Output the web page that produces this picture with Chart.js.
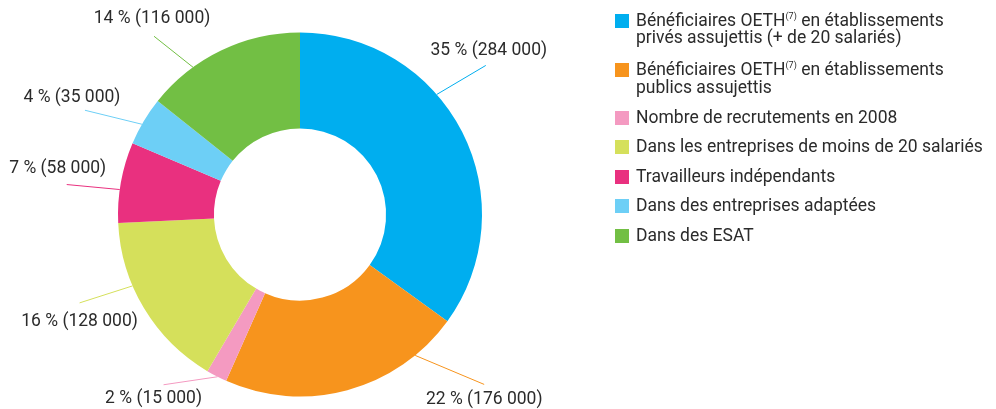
<!DOCTYPE html>
<html>
<head>
<meta charset="utf-8">
<script src="https://cdn.jsdelivr.net/npm/chart.js@4/dist/chart.umd.min.js"></script>
<style>
  html, body { margin: 0; padding: 0; background: #fff; }
  #wrap { position: relative; width: 996px; height: 409px; overflow: hidden; }
  #graphique { position: absolute; left: 0; top: 0; }
  #legende { position: absolute; left: 615px; top: 11.5px; width: 373px;
    font-family: Roboto, sans-serif; font-size: 17.5px; color: #2b2b2b; line-height: 17.7px; }
  .item { position: relative; padding-left: 21px; margin-bottom: 11.8px; }
  .item:first-child { margin-bottom: 14px; }
  .item:nth-child(2) { margin-bottom: 12.3px; }
  .carre { position: absolute; left: 0; top: 2px; width: 14px; height: 14px; }
  sup { font-size: 9px; line-height: 0; vertical-align: 7px; }
</style>
</head>
<body>
<div id="wrap">
  <canvas id="graphique" width="996" height="409"></canvas>
  <div id="legende"></div>
</div>
<script>
// données
const categories = [
  'Bénéficiaires OETH(7) en établissements privés assujettis (+ de 20 salariés)',
  'Bénéficiaires OETH(7) en établissements publics assujettis',
  'Nombre de recrutements en 2008',
  'Dans les entreprises de moins de 20 salariés',
  'Travailleurs indépendants',
  'Dans des entreprises adaptées',
  'Dans des ESAT'
];
const effectifs = [284000, 176000, 15000, 128000, 58000, 35000, 116000];
const couleurs = ['#00aeef', '#f7941d', '#f49ac1', '#d5e05b', '#e9307f', '#6dcff6', '#72bf44'];

// placement des étiquettes (fraction de l'angle, trait, texte)
const posAncre = [0.387, 0.19, 0.45, 0.64, 0.41, 0.43, 0.30];
const trait = [[49, -29], [69, 29], [-54, 8], [-53, 17], [-53, -5], [-57, -14], [-39, -31]];
const decalTexte = [[3, -15], [0, 15], [-10, 14], [0, 19], [-9, -16], [-13, -13], [-2, -18]];

const total = effectifs.reduce((a, b) => a + b, 0);

function formatNombre(n) {
  return String(n).replace(/\B(?=(\d{3})+(?!\d))/g, ' ');
}

const etiquettes = {
  id: 'etiquettes',
  afterDatasetsDraw(chart) {
    const ctx = chart.ctx;
    const meta = chart.getDatasetMeta(0);
    ctx.save();
    ctx.font = '17.5px Roboto, sans-serif';
    ctx.textAlign = 'center';
    ctx.textBaseline = 'middle';
    meta.data.forEach((arc, i) => {
      const p = arc.getProps(['x', 'y', 'startAngle', 'endAngle', 'outerRadius'], true);
      const a = p.startAngle + posAncre[i] * (p.endAngle - p.startAngle);
      const x0 = p.x + p.outerRadius * Math.cos(a);
      const y0 = p.y + p.outerRadius * Math.sin(a);
      const x1 = x0 + trait[i][0];
      const y1 = y0 + trait[i][1];
      ctx.strokeStyle = couleurs[i];
      ctx.lineWidth = 1;
      ctx.beginPath();
      ctx.moveTo(x0, y0);
      ctx.lineTo(x1, y1);
      ctx.stroke();
      const pct = Math.round(effectifs[i] / total * 100);
      ctx.fillStyle = '#2b2b2b';
      ctx.fillText(pct + ' % (' + formatNombre(effectifs[i]) + ')', x1 + decalTexte[i][0], y1 + decalTexte[i][1]);
    });
    ctx.restore();
  }
};

new Chart(document.getElementById('graphique'), {
  type: 'doughnut',
  data: {
    labels: categories,
    datasets: [{
      data: effectifs,
      backgroundColor: couleurs,
      borderWidth: 0
    }]
  },
  options: {
    responsive: false,
    animation: false,
    cutout: '47.3%',
    layout: { padding: { left: 118, right: 514, top: 32.5, bottom: 12.5 } },
    plugins: {
      legend: { display: false },
      tooltip: { enabled: false }
    }
  },
  plugins: [etiquettes]
});

// légende
const legende = document.getElementById('legende');
categories.forEach((nom, i) => {
  const item = document.createElement('div');
  item.className = 'item';
  item.innerHTML = '<span class="carre" style="background:' + couleurs[i] + '"></span>' +
    nom.replace('(7)', '<sup>(7)</sup>');
  legende.appendChild(item);
});
</script>
</body>
</html>
